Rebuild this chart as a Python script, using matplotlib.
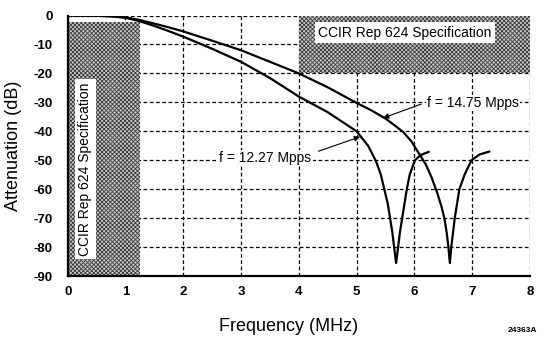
import matplotlib
matplotlib.use('Agg')
import matplotlib.pyplot as plt
from matplotlib.patches import Rectangle

# Кривые затухания
freq_1227 = [0, 0.5, 0.75, 1.0, 1.25, 1.5, 1.75, 2.0, 2.5, 3.0, 3.5, 4.0, 4.5, 5.0, 5.2, 5.34,
             5.42, 5.48, 5.54, 5.58, 5.62, 5.65, 5.685, 5.72, 5.75, 5.79, 5.83, 5.87, 5.92,
             6.01, 6.11, 6.25]
att_1227 = [0, -0.1, -0.3, -0.8, -2.0, -3.6, -5.4, -7.3, -11.5, -16.0, -21.6, -28.0, -33.4,
            -40.0, -45.0, -50.5, -55.0, -60.0, -65.0, -70.0, -75.0, -80.0, -85.5, -80.0,
            -75.0, -70.0, -65.0, -60.0, -55.0, -50.0, -48.2, -47.1]

freq_1475 = [0, 0.5, 0.75, 1.0, 1.25, 1.5, 1.75, 2.0, 2.5, 3.0, 3.5, 4.0, 4.5, 5.0, 5.25, 5.5,
             5.65, 5.81, 5.95, 6.11, 6.2, 6.3, 6.4, 6.47, 6.52, 6.56, 6.59, 6.615, 6.64, 6.67,
             6.70, 6.74, 6.78, 6.87, 6.99, 7.13, 7.30]
att_1475 = [0, -0.1, -0.25, -0.6, -1.6, -2.8, -4.1, -5.5, -8.7, -12.0, -16.0, -20.0, -24.8,
            -30.2, -32.7, -35.6, -37.8, -40.3, -43.5, -48.6, -51.5, -56.0, -61.5, -66.0,
            -70.0, -75.0, -80.0, -85.5, -80.0, -75.0, -70.0, -65.0, -60.0, -55.0, -50.0,
            -48.0, -47.0]

x_ticks = [0, 1, 2, 3, 4, 5, 6, 7, 8]
y_ticks = [0, -10, -20, -30, -40, -50, -60, -70, -80, -90]

# Области спецификации CCIR Rep 624: (x0, x1, y0, y1)
spec_low = (0, 1.25, -90, -2.3)
spec_high = (4.0, 8.0, -20, 0)

plt.rcParams['font.family'] = ['Liberation Sans', 'DejaVu Sans']
plt.rcParams['axes.unicode_minus'] = False
plt.rcParams['hatch.linewidth'] = 0.6

fig = plt.figure(figsize=(5.44, 3.37), dpi=100)
ax = fig.add_axes([0.1245, 0.181, 0.8495, 0.773])

ax.set_xlim(0, 8)
ax.set_ylim(-90, 0)
ax.set_xticks(x_ticks)
ax.set_yticks(y_ticks)
ax.tick_params(length=0, labelsize=9.5)
ax.tick_params(axis='y', pad=11)
ax.tick_params(axis='x', pad=7)
for lab in ax.get_xticklabels() + ax.get_yticklabels():
    lab.set_fontweight('bold')

ax.grid(True, color='black', linestyle=(0, (3, 2)), linewidth=0.9)
ax.set_axisbelow(True)
for side in ['top', 'right']:
    ax.spines[side].set_visible(False)
for side in ['left', 'bottom']:
    ax.spines[side].set_linewidth(1.6)
    ax.spines[side].set_zorder(5)

# Заштрихованные области
for x0, x1, y0, y1 in [spec_low, spec_high]:
    ax.add_patch(Rectangle((x0, y0), x1 - x0, y1 - y0, facecolor='#c8c8c8',
                           edgecolor='#3c3c3c', hatch='xxxxxxxx', linewidth=0, zorder=1.5))

ax.text(0.30, -53, 'CCIR Rep 624 Specification', rotation=90, ha='center', va='center',
        fontsize=10, zorder=4, bbox=dict(facecolor='white', edgecolor='none', pad=2.5))
ax.text(5.84, -5.9, 'CCIR Rep 624 Specification', ha='center', va='center',
        fontsize=10, zorder=4, bbox=dict(facecolor='white', edgecolor='none', pad=2.5))

# Кривые
for fx, ay in [(freq_1227, att_1227), (freq_1475, att_1475)]:
    ax.plot(fx, ay, color='black', linewidth=1.6, zorder=3,
            solid_joinstyle='round', solid_capstyle='round')

# Подписи со стрелками
ax.text(6.22, -30.2, 'f = 14.75 Mpps', ha='left', va='center', fontsize=10, zorder=4,
        bbox=dict(facecolor='white', edgecolor='none', pad=1))
ax.annotate('', xy=(5.46, -35.4), xytext=(6.12, -30.6),
            arrowprops=dict(arrowstyle='-|>', color='black', lw=0.8, mutation_scale=8,
                            shrinkA=0, shrinkB=0), zorder=4)
ax.text(2.62, -49.2, 'f = 12.27 Mpps', ha='left', va='center', fontsize=10, zorder=4,
        bbox=dict(facecolor='white', edgecolor='none', pad=1))
ax.annotate('', xy=(5.06, -41.9), xytext=(4.34, -46.9),
            arrowprops=dict(arrowstyle='-|>', color='black', lw=0.8, mutation_scale=8,
                            shrinkA=0, shrinkB=0), zorder=4)

ax.set_xlabel('Frequency (MHz)', fontsize=13)
ax.set_ylabel('Attenuation (dB)', fontsize=13)
ax.xaxis.set_label_coords(0.477, -0.161)
ax.yaxis.set_label_coords(-0.099, 0.5)

fig.text(0.96, 0.02, '24363A', ha='center', va='center', fontsize=6, fontweight='bold')

fig.savefig('out.png', dpi=100)
